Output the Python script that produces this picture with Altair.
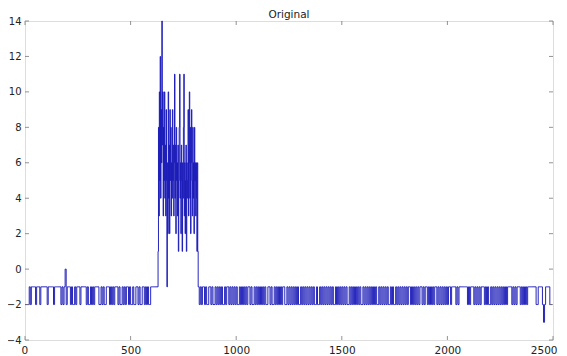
import altair as alt
import pandas as pd

# ---- data ----
# baseline before the burst: one code per 5 samples, starting at x=0
# code -> value: '0'->0, '1'->-1, '2'->-2, '3'->-3
base_left = ("2222121111" "2111211111" "1211111211" "1111212102" "1112122121"
             "1121111121" "2212121111" "2212122111" "2121211121" "2212121121"
             "2212211212" "2112121221" "111111")
# burst: one value per 2 samples, starting at x=630
burst = [1, 8, 3, 10, 5, 12, 4, 9, 6, 14, 7, 10, 3, 8, 5, 10, 4, 7, 3, 9,
         5, -1, 6, 2, 10, 4, 7, 2, 9, 5, 8, 3, 6, 4, 9, 5, 7, 3, 6, 11,
         4, 7, 2, 8, 5, 6, 3, 7, 1, 5, 8, 11, 4, 6, 2, 7, 5, 1, 6, 4,
         8, 11, 3, 6, 2, 5, 7, 1, 6, 4, 5, 9, 3, 6, 10, 4, 8, 2, 6, 9,
         5, 3, 8, 4, 6, 2, 8, 5, 6, 3, 6, 4, 1, 6, 1, -1]
# baseline after the burst: one code per 5 samples, starting at x=825
base_right = ("2121121221" "1212212121" "2122121121" "2121212212" "1212121121"
              "2212121212" "1212211212" "2121212121" "1221212121" "2121221212"
              "1212121212" "2122121212" "1212121221" "2121212121" "2212121212"
              "1212212121" "2121212122" "1212121212" "2121221212" "1212121211"
              "2121212121" "1212112121" "2121121212" "1212121121" "1112121111"
              "1111212111" "2121212111" "2121221212" "1212121212" "1211112121"
              "2111212121" "2111111112" "2111123211" "11222")

x_ticks = [0, 500, 1000, 1500, 2000, 2500]
y_ticks = [-4, -2, 0, 2, 4, 6, 8, 10, 12, 14]
title_text = "Original"

code = {"0": 0, "1": -1, "2": -2, "3": -3}
xs, ys = [], []
for i, c in enumerate(base_left):
    xs.append(i * 5); ys.append(code[c])
for i, v in enumerate(burst):
    xs.append(630 + i * 2); ys.append(v)
for i, c in enumerate(base_right):
    xs.append(825 + i * 5); ys.append(code[c])
df = pd.DataFrame({"x": xs, "y": ys})

W, H = 528, 319
FONT = "DejaVu Sans"
xs_scale = alt.Scale(domain=[0, 2500], nice=False, zero=False)
ys_scale = alt.Scale(domain=[-4, 14], nice=False, zero=False)

x_axis = alt.Axis(values=x_ticks, title=None, ticks=False, domain=False,
                  grid=False, labelFontSize=10.5, labelColor="#222",
                  labelPadding=5, labelFont=FONT,
                  format="d", labelOverlap=False, labelFlush=True,
                  labelFlushOffset=4)
y_axis = alt.Axis(values=y_ticks, title=None, ticks=False, domain=False,
                  grid=False, labelFontSize=10, labelColor="#222",
                  labelPadding=4, labelFont=FONT,
                  format="d", labelOverlap=False, labelFlush=False)

line = alt.Chart(df).mark_line(color="#1a1ab8", strokeWidth=0.95,
                               interpolate="step-after").encode(
    x=alt.X("x:Q", scale=xs_scale, axis=x_axis),
    y=alt.Y("y:Q", scale=ys_scale, axis=y_axis),
)

xt = pd.DataFrame({"t": x_ticks})
yt = pd.DataFrame({"t": y_ticks})
tick_color = "#777"
bt = alt.Chart(xt).mark_rule(color=tick_color, strokeWidth=0.8).encode(
    x=alt.X("t:Q", scale=xs_scale, axis=x_axis), y=alt.value(H), y2=alt.value(H - 4))
tt = alt.Chart(xt).mark_rule(color=tick_color, strokeWidth=0.8).encode(
    x=alt.X("t:Q", scale=xs_scale, axis=x_axis), y=alt.value(0), y2=alt.value(4))
lt = alt.Chart(yt).mark_rule(color=tick_color, strokeWidth=0.8).encode(
    y=alt.Y("t:Q", scale=ys_scale, axis=y_axis), x=alt.value(0), x2=alt.value(4))
rt = alt.Chart(yt).mark_rule(color=tick_color, strokeWidth=0.8).encode(
    y=alt.Y("t:Q", scale=ys_scale, axis=y_axis), x=alt.value(W - 4), x2=alt.value(W))

chart = alt.layer(line, bt, tt, lt, rt).properties(
    width=W, height=H,
    title=alt.TitleParams(title_text, fontSize=10.5, font=FONT,
                          fontWeight="normal", color="#222", offset=2, dy=6,
                          anchor="middle"),
    autosize=alt.AutoSizeParams(type="none"),
    padding={"left": 17, "top": 13, "right": 6, "bottom": 16},
).configure_view(stroke="#777", strokeWidth=1).configure(background="white")

chart.save("out.html", embed_options={"renderer": "svg", "actions": False})
